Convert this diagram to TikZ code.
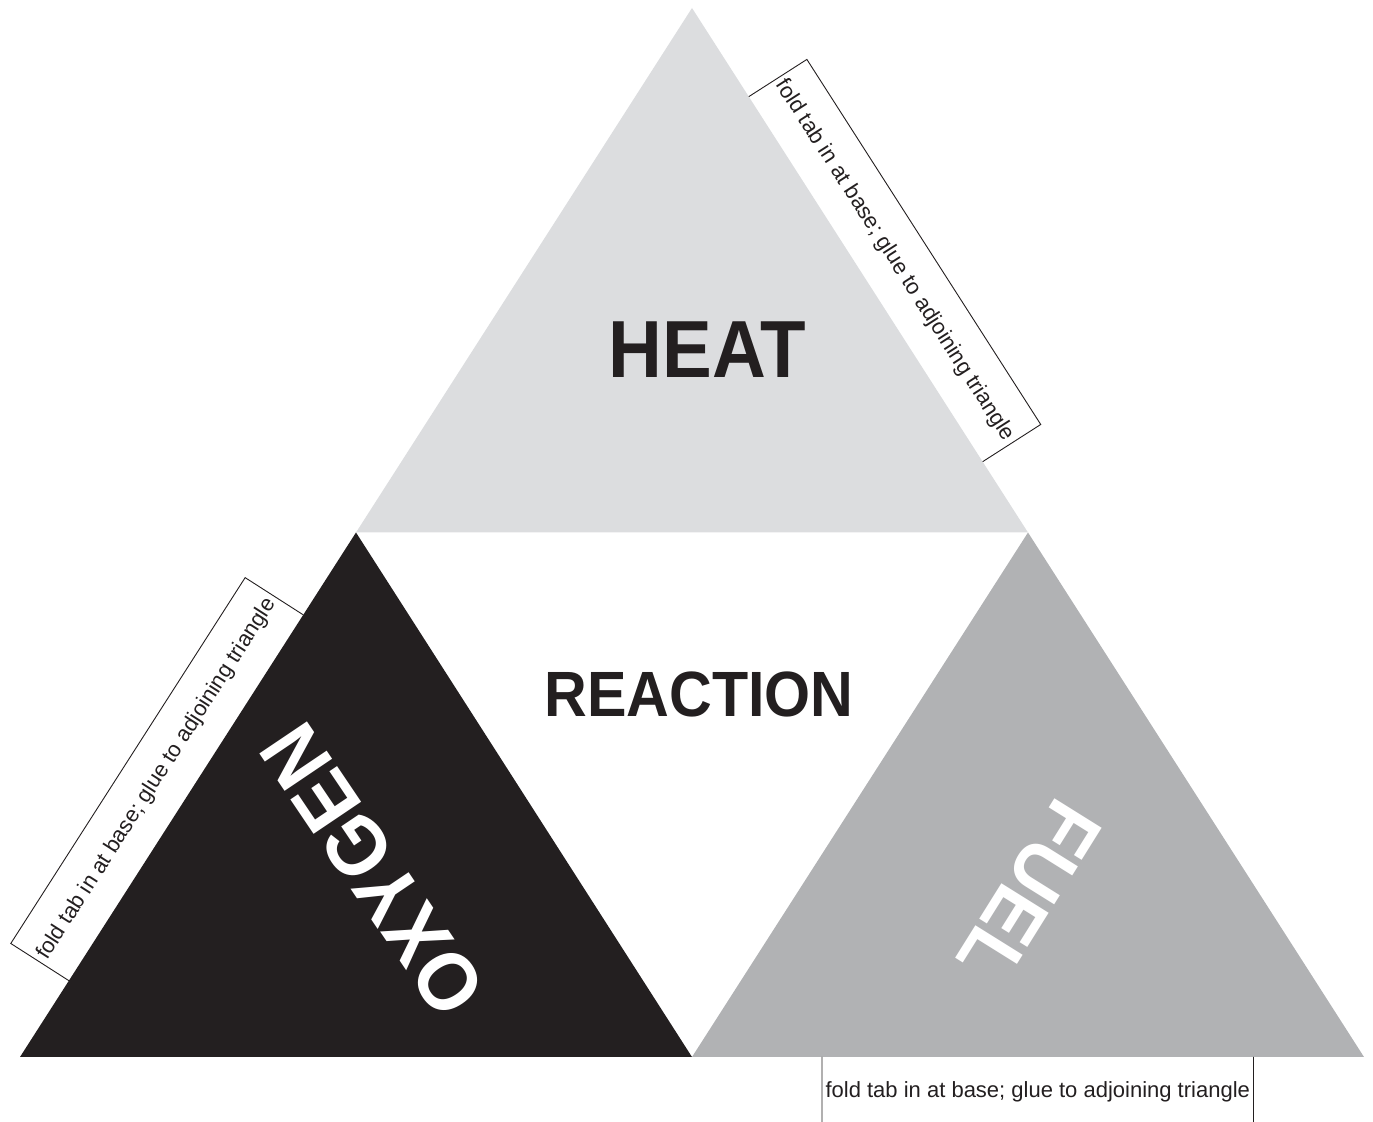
\documentclass[tikz,border=0pt]{standalone}
\usepackage{fontspec}
\setmainfont{Liberation Sans}
\usetikzlibrary{calc,positioning}
\definecolor{heatgray}{HTML}{DCDDDF}
\definecolor{fuelgray}{HTML}{B1B2B4}
\definecolor{inkblack}{HTML}{231F20}
\tikzset{
  bigword/.style={
    font=\bfseries\fontsize{40.5}{44}\selectfont,
    inner sep=0pt,
    xscale=0.92
  },
  midword/.style={
    font=\bfseries\fontsize{32}{36}\selectfont,
    inner sep=0pt,
    xscale=0.925
  },
  tabline/.style={draw=inkblack, line width=0.45pt},
  tabtext/.style={
    font=\fontsize{11}{13}\selectfont,
    text=inkblack,
    inner sep=0pt
  }
}

\begin{document}
\begin{tikzpicture}[x=0.5pt,y=-0.5pt]

\useasboundingbox (0,0) rectangle (1373,1122);
\clip (0,0) rectangle (1373,1122);

\coordinate (apex) at (692,8);
\coordinate (left) at (20,1057);
\coordinate (right) at (1364,1057);
\coordinate (midL) at ($(apex)!0.5!(left)$);
\coordinate (midR) at ($(apex)!0.5!(right)$);
\coordinate (midB) at ($(left)!0.5!(right)$);

\fill[heatgray] (apex) -- (midR) -- (midL) -- cycle;
\fill[inkblack] (midL) -- (midB) -- (left) -- cycle;
\fill[fuelgray] (midR) -- (right) -- (midB) -- cycle;

\node[bigword, text=inkblack] (heat) at (707.5,350) {HEAT};
\node[midword, text=inkblack] (reaction) at (699,694) {REACTION};
\node[rotate=124, bigword, scale=1.03, text=white] (oxygen) at (373,870) {OXYGEN};
\node[rotate=-122, bigword, text=white] (fuel) at (1029,892) {FUEL};

\foreach \p/\q/\s/\e/\r [count=\i] in
  {apex/midR/0.169/0.865/-57.35,
   left/midL/0.1455/0.843/57.35,
   right/midB/0.1644/0.8065/0}{
  \coordinate (tab\i a) at ($(\p)!\s!(\q)$);
  \coordinate (tab\i b) at ($(\p)!\e!(\q)$);
  \coordinate (tab\i c) at ($(tab\i b)!34.5pt!-90:(tab\i a)$);
  \coordinate (tab\i d) at ($(tab\i a)!34.5pt!90:(tab\i b)$);
  \draw[tabline] (tab\i a) -- (tab\i d) -- (tab\i c) -- (tab\i b);
  \node[tabtext, rotate=\r] (tabnote\i) at ($(tab\i a)!0.5!(tab\i c)$)
    {fold tab in at base; glue to adjoining triangle};
}

\end{tikzpicture}
\end{document}
